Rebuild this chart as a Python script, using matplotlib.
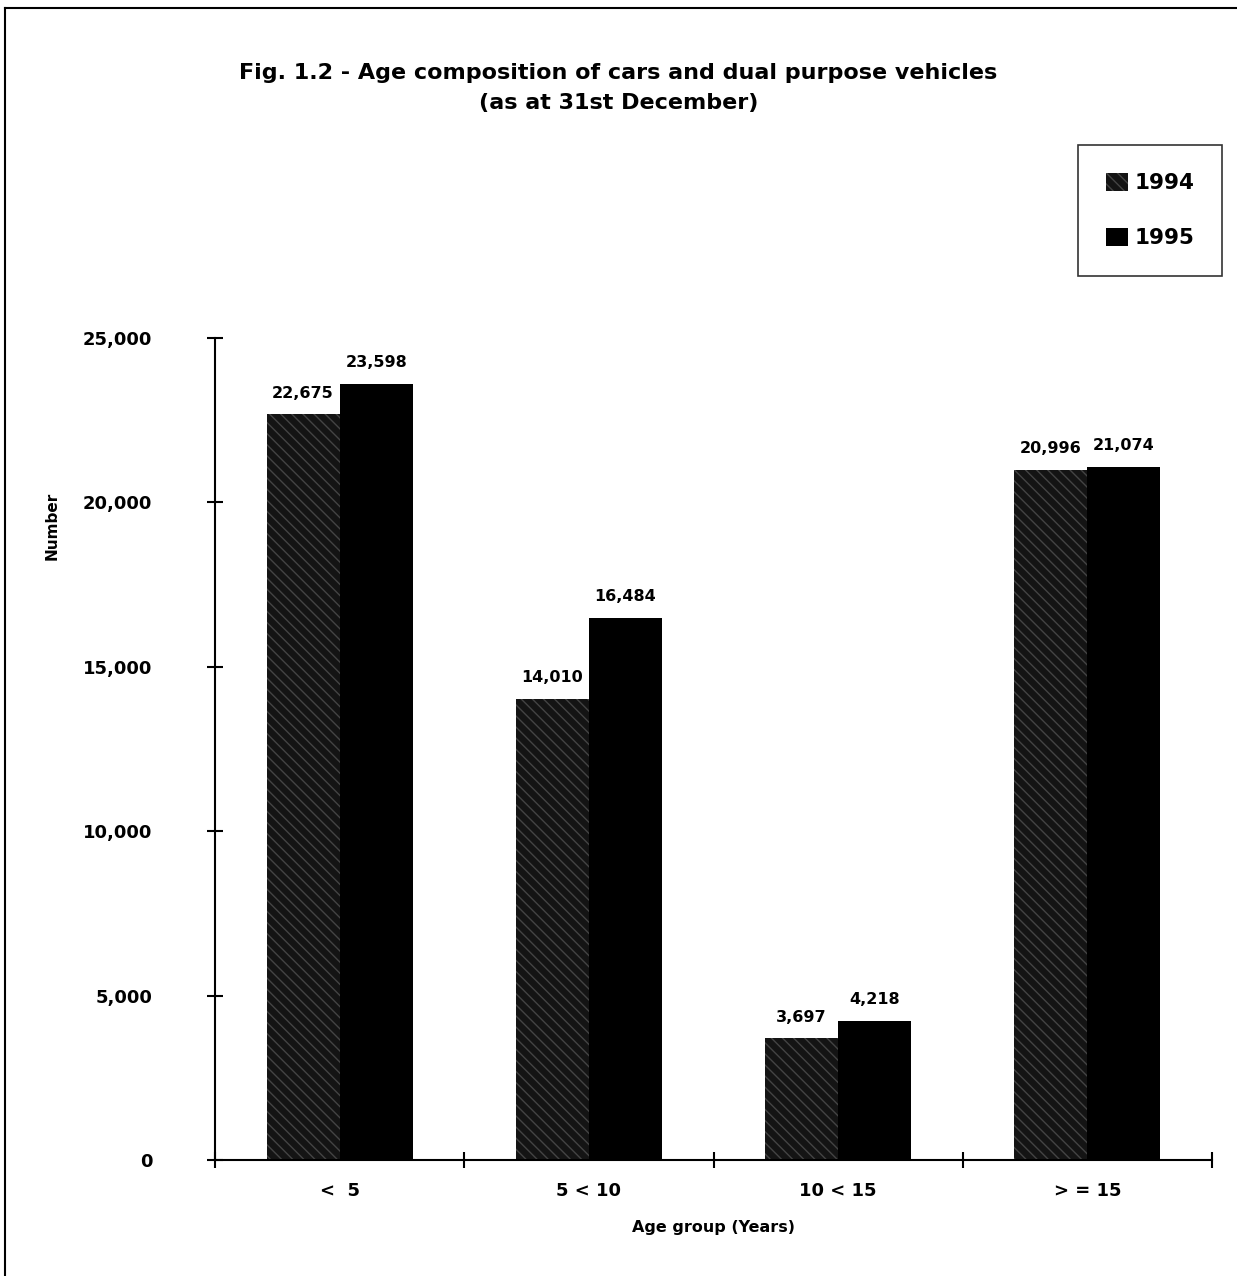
import matplotlib.pyplot as plt
import numpy as np

groups = ["<  5", "5 < 10", "10 < 15", "> = 15"]
years = ["1994", "1995"]
vals_1994 = [22675, 14010, 3697, 20996]
vals_1995 = [23598, 16484, 4218, 21074]

plt.rcParams['font.family'] = 'DejaVu Sans'
plt.rcParams['font.weight'] = 'bold'

fig = plt.figure(figsize=(12.37, 12.76), dpi=100)
ax = fig.add_axes([0.1738, 0.0909, 0.806, 0.6442])

x = np.arange(len(groups))
w = 0.293
b1 = ax.bar(x - w/2, vals_1994, w, color='#141414', hatch='\\\\\\', edgecolor='#444444', linewidth=0, label=years[0])
b2 = ax.bar(x + w/2, vals_1995, w, color='black', linewidth=0, label=years[1])

for rects in (b1, b2):
    for r in rects:
        ax.annotate(f"{int(r.get_height()):,}", (r.get_x() + r.get_width()/2, r.get_height()),
                    xytext=(0, 10), textcoords='offset points', ha='center', va='bottom',
                    fontsize=11.5, fontweight='bold')

ax.set_xlim(-0.5, 3.5)
ax.set_ylim(0, 25000)
ax.set_yticks(np.arange(0, 25001, 5000))
ax.set_yticklabels([f"{v:,}" for v in range(0, 25001, 5000)], fontsize=13, fontweight='bold')
ax.set_xticks(np.arange(-0.5, 3.6, 1))
ax.set_xticklabels([])
ax.set_xticks(x, minor=True)
ax.set_xticklabels(groups, minor=True, fontsize=13, fontweight='bold')
ax.tick_params(axis='x', which='minor', length=0, pad=16)
ax.tick_params(axis='x', which='major', direction='inout', length=12, width=1.5)
ax.tick_params(axis='y', direction='inout', length=12, width=1.5, pad=39)
ax.spines['top'].set_visible(False)
ax.spines['right'].set_visible(False)
ax.spines['left'].set_linewidth(1.5)
ax.spines['bottom'].set_linewidth(1.5)

ax.set_xlabel("Age group (Years)", fontsize=11.5, fontweight='bold', labelpad=14)
fig.text(0.042, 0.588, "Number", rotation=90, ha='center', va='center', fontsize=11, fontweight='bold')

fig.text(0.5, 0.943, "Fig. 1.2 - Age composition of cars and dual purpose vehicles",
         ha='center', va='center', fontsize=16, fontweight='bold')
fig.text(0.5, 0.919, "(as at 31st December)", ha='center', va='center', fontsize=16, fontweight='bold')

leg = fig.legend(handles=[b1, b2], labels=years, loc='upper right', bbox_to_anchor=(0.988, 0.8864),
                 borderaxespad=0, fontsize=15.5, frameon=True, fancybox=False, edgecolor='black',
                 handlelength=1.0, handleheight=0.9, handletextpad=0.3, labelspacing=1.6,
                 borderpad=1.3)
leg.get_frame().set_linewidth(1.2)
for t in leg.get_texts():
    t.set_fontweight('bold')

# page frame on left and top
fig.add_artist(plt.Line2D([0.004, 0.004], [0, 0.994], color='black', linewidth=1.5))
fig.add_artist(plt.Line2D([0.004, 1.0], [0.994, 0.994], color='black', linewidth=1.5))

plt.savefig("out.png", dpi=100)
